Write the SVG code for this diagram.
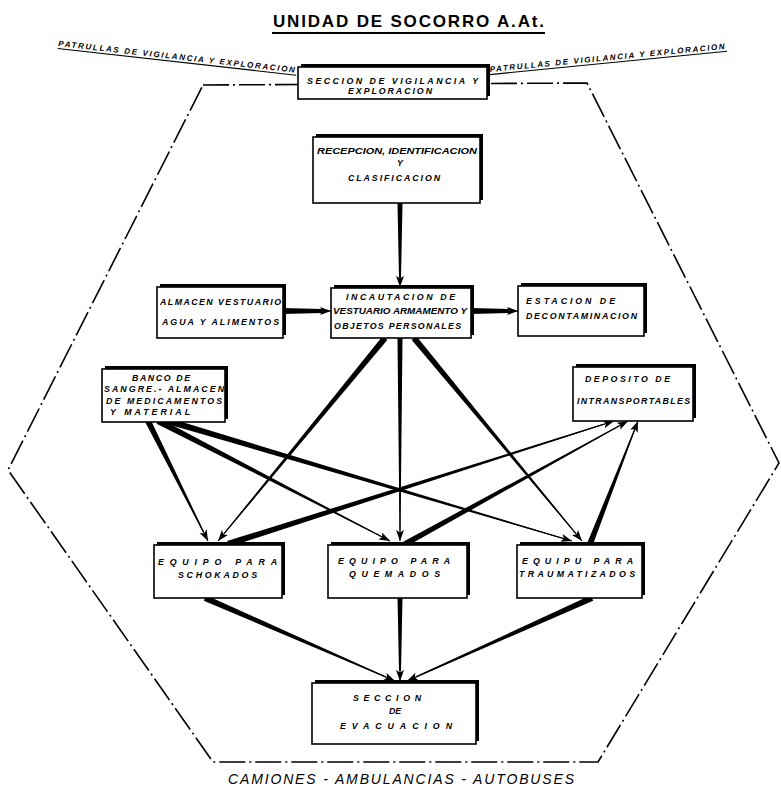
<svg xmlns="http://www.w3.org/2000/svg" width="781" height="790" viewBox="0 0 781 790">
<style>
.bg{fill:#fff}
.hex{fill:none;stroke:#000;stroke-width:1.6;stroke-dasharray:26 4 2 4}
.sh{fill:#000}
.bx{fill:#fff;stroke:#000;stroke-width:1.6}
.t{font-family:"Liberation Sans",Arial,sans-serif;font-style:italic;font-weight:bold;font-size:8.8px;fill:#000}
.title{font-family:"Liberation Sans",Arial,sans-serif;font-weight:bold;font-size:17px;fill:#000}
.foot{font-family:"Liberation Sans",Arial,sans-serif;font-style:italic;font-size:14px;fill:#000}
.ln{stroke:#000;stroke-width:1.1;fill:none;marker-end:url(#ah)}
.w{fill:#000}
.ul{stroke:#000;stroke-width:1.2}
</style>
<defs>
<marker id="ah" markerUnits="userSpaceOnUse" markerWidth="12" markerHeight="10" refX="11" refY="4" orient="auto">
<path d="M0,0 L11,4 L0,8 L2.5,4 Z" fill="#000"/>
</marker>
</defs>
<rect class="bg" x="0" y="0" width="781" height="790"/>

<g id="title">
<text class="title" x="273" y="27" textLength="271" lengthAdjust="spacing">UNIDAD DE SOCORRO A.At.</text>
<line x1="272" y1="33" x2="545" y2="33" stroke="#000" stroke-width="2.2"/>
</g>

<g id="perimeter">
<polygon class="hex" points="203,85 587,83 779,463 598,762 213,762 8,470"/>
</g>

<g id="patrol-left">
<g transform="translate(58,46) rotate(6.4)">
<text class="t" x="0" y="0" textLength="238" lengthAdjust="spacing" style="font-size:8px">PATRULLAS DE VIGILANCIA Y EXPLORACION</text>
<line class="ul" x1="0" y1="2.5" x2="240" y2="2.5"/>
</g>
</g>
<g id="patrol-right">
<g transform="translate(490,72) rotate(-5.6)">
<text class="t" x="0" y="0" textLength="236" lengthAdjust="spacing" style="font-size:8px">PATRULLAS DE VIGILANCIA Y EXPLORACION</text>
<line class="ul" x1="-3" y1="2.5" x2="238" y2="2.5"/>
</g>
</g>

<g id="connectors">
<polygon class="w" points="397.5,203 402.5,203 401,278 399,278"/>
<line class="ln" x1="400" y1="203" x2="400" y2="287"/>
<polygon class="w" points="283,308 322,309 322,313 283,314"/>
<line class="ln" x1="283" y1="311" x2="331" y2="311"/>
<polygon class="w" points="471,308 509,309 509,313 471,314"/>
<line class="ln" x1="471" y1="311" x2="518" y2="311"/>

<polygon class="w" points="382.7,336.1 224.0,533.0 224.8,533.6 387.3,339.9"/>
<line class="ln" x1="385" y1="338" x2="218" y2="541"/>
<polygon class="w" points="397.5,338 402.5,338 400.5,531 399.5,531"/>
<line class="ln" x1="400" y1="338" x2="400" y2="541"/>
<polygon class="w" points="411.7,339.9 575.2,533.6 576.0,533.0 416.3,336.1"/>
<line class="ln" x1="414" y1="338" x2="582" y2="541"/>

<polygon class="w" points="145.3,422.3 203.0,532.4 204.0,531.8 150.7,419.7"/>
<line class="ln" x1="148" y1="421" x2="208" y2="541"/>
<polygon class="w" points="156.6,423.7 380.9,536.8 381.3,536.0 159.4,418.3"/>
<line class="ln" x1="158" y1="421" x2="390" y2="541"/>
<polygon class="w" points="167.1,423.9 562.3,538.7 562.5,537.7 168.9,418.1"/>
<line class="ln" x1="168" y1="421" x2="572" y2="541"/>

<polygon class="w" points="228.9,546.9 604.7,424.5 604.3,423.5 227.1,541.1"/>
<line class="ln" x1="228" y1="544" x2="614" y2="421"/>
<polygon class="w" points="406.4,546.6 619.5,426.3 619.0,425.4 403.6,541.4"/>
<line class="ln" x1="405" y1="544" x2="628" y2="421"/>
<polygon class="w" points="592.8,545.1 634.9,430.5 633.9,430.1 587.2,542.9"/>
<line class="ln" x1="590" y1="544" x2="638" y2="421"/>

<polygon class="w" points="203.8,600.8 385.5,677.6 386.1,676.4 206.2,595.2"/>
<line class="ln" x1="205" y1="598" x2="395" y2="681"/>
<polygon class="w" points="397.5,598 402.5,598 401,671 399,671"/>
<line class="ln" x1="400" y1="598" x2="400" y2="681"/>
<polygon class="w" points="590.8,595.3 415.8,676.3 416.4,677.5 593.2,600.7"/>
<line class="ln" x1="592" y1="598" x2="407" y2="681"/>
</g>

<g id="vigilancia">
<rect class="sh" x="301" y="64" width="189" height="32"/>
<rect class="bx" x="298" y="67" width="189" height="32"/>
<text class="t" x="307" y="84" textLength="171" lengthAdjust="spacing">SECCION DE VIGILANCIA Y</text>
<text class="t" x="348" y="94" textLength="84" lengthAdjust="spacing">EXPLORACION</text>
</g>

<g id="recepcion">
<rect class="sh" x="316" y="134" width="167" height="66"/>
<rect class="bx" x="313" y="137" width="167" height="66"/>
<text class="t" x="317" y="154" textLength="160" lengthAdjust="spacingAndGlyphs" style="font-size:8.5px">RECEPCION, IDENTIFICACION</text>
<text class="t" x="397" y="166">Y</text>
<text class="t" x="348" y="181" textLength="92" lengthAdjust="spacing">CLASIFICACION</text>
</g>

<g id="almacen">
<rect class="sh" x="160" y="284" width="126" height="51"/>
<rect class="bx" x="157" y="287" width="126" height="51"/>
<text class="t" x="160" y="305" textLength="121" lengthAdjust="spacing">ALMACEN VESTUARIO</text>
<text class="t" x="162" y="325" textLength="117" lengthAdjust="spacing">AGUA Y ALIMENTOS</text>
</g>

<g id="incautacion">
<rect class="sh" x="334" y="285" width="140" height="50"/>
<rect class="bx" x="331" y="288" width="140" height="50"/>
<text class="t" x="346" y="300" textLength="109" lengthAdjust="spacing">INCAUTACION DE</text>
<text class="t" x="333" y="314" textLength="134" lengthAdjust="spacingAndGlyphs">VESTUARIO ARMAMENTO Y</text>
<text class="t" x="334" y="329" textLength="127" lengthAdjust="spacing">OBJETOS PERSONALES</text>
</g>

<g id="estacion">
<rect class="sh" x="521" y="283" width="126" height="50"/>
<rect class="bx" x="518" y="286" width="126" height="50"/>
<text class="t" x="526" y="304" textLength="89" lengthAdjust="spacing">ESTACION DE</text>
<text class="t" x="526" y="319" textLength="111" lengthAdjust="spacing">DECONTAMINACION</text>
</g>

<g id="banco">
<rect class="sh" x="105" y="366" width="123" height="53"/>
<rect class="bx" x="102" y="369" width="123" height="53"/>
<text class="t" x="132" y="381" textLength="58" lengthAdjust="spacing">BANCO DE</text>
<text class="t" x="104" y="392" textLength="120" lengthAdjust="spacing">SANGRE.- ALMACEN</text>
<text class="t" x="106" y="404" textLength="116" lengthAdjust="spacing">DE MEDICAMENTOS</text>
<text class="t" x="110" y="415" textLength="80" lengthAdjust="spacing">Y MATERIAL</text>
</g>

<g id="deposito">
<rect class="sh" x="576" y="364" width="120" height="54"/>
<rect class="bx" x="573" y="367" width="120" height="54"/>
<text class="t" x="585" y="382" textLength="85" lengthAdjust="spacing">DEPOSITO DE</text>
<text class="t" x="577" y="404" textLength="113" lengthAdjust="spacing">INTRANSPORTABLES</text>
</g>

<g id="schokados">
<rect class="sh" x="157" y="542" width="128" height="53"/>
<rect class="bx" x="154" y="545" width="128" height="53"/>
<text class="t" x="158" y="565" textLength="119" lengthAdjust="spacing">EQUIPO PARA</text>
<text class="t" x="178" y="578" textLength="79" lengthAdjust="spacing">SCHOKADOS</text>
</g>

<g id="quemados">
<rect class="sh" x="331" y="542" width="139" height="53"/>
<rect class="bx" x="328" y="545" width="139" height="53"/>
<text class="t" x="338" y="564" textLength="112" lengthAdjust="spacing">EQUIPO PARA</text>
<text class="t" x="349" y="577" textLength="91" lengthAdjust="spacing">QUEMADOS</text>
</g>

<g id="traumatizados">
<rect class="sh" x="520" y="542" width="125" height="53"/>
<rect class="bx" x="517" y="545" width="125" height="53"/>
<text class="t" x="522" y="564" textLength="111" lengthAdjust="spacing">EQUIPU PARA</text>
<text class="t" x="519" y="577" textLength="116" lengthAdjust="spacing">TRAUMATIZADOS</text>
</g>

<g id="evacuacion">
<rect class="sh" x="315" y="680" width="164" height="61"/>
<rect class="bx" x="312" y="683" width="164" height="61"/>
<text class="t" x="353" y="701" textLength="68" lengthAdjust="spacing">SECCION</text>
<text class="t" x="389" y="714">DE</text>
<text class="t" x="340" y="729" textLength="112" lengthAdjust="spacing">EVACUACION</text>
</g>

<g id="transport">
<text class="foot" x="228" y="784" textLength="346" lengthAdjust="spacing">CAMIONES - AMBULANCIAS - AUTOBUSES</text>
</g>
</svg>
